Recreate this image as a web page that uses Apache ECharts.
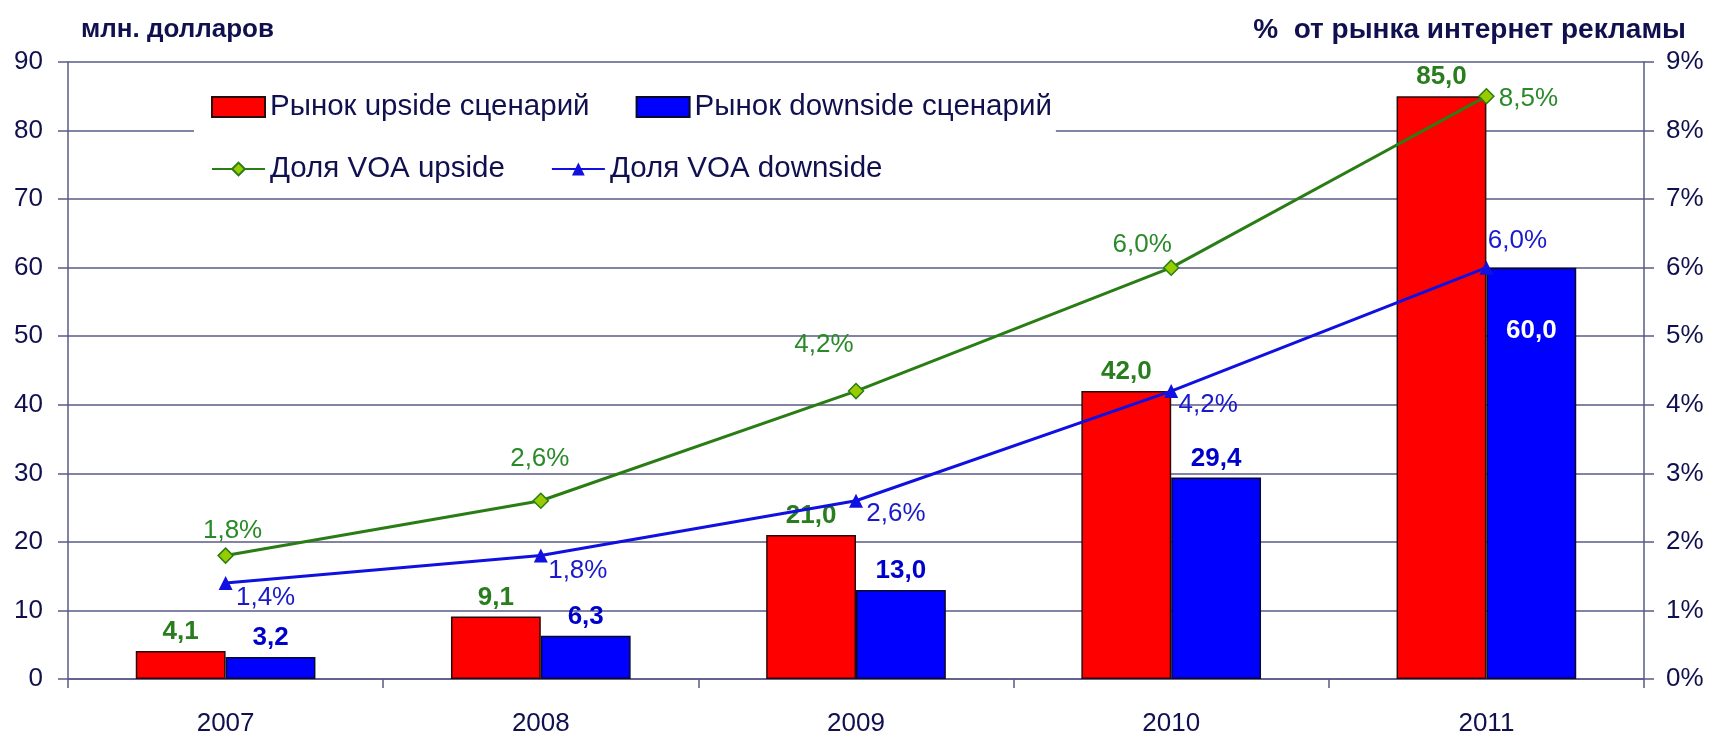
<!DOCTYPE html>
<html>
<head>
<meta charset="utf-8">
<script src="https://cdn.jsdelivr.net/npm/echarts@6/dist/echarts.min.js"></script>
<style>
  html, body { margin: 0; padding: 0; background: #fff; }
  #chart { width: 1721px; height: 737px; }
</style>
</head>
<body>
<div id="chart"></div>
<script>
// данные
var years = ["2007", "2008", "2009", "2010", "2011"];
var marketUp = [4.1, 9.1, 21.0, 42.0, 85.0];
var marketDown = [3.2, 6.3, 13.0, 29.4, 60.0];
var shareUp = [1.8, 2.6, 4.2, 6.0, 8.5];
var shareDown = [1.4, 1.8, 2.6, 4.2, 6.0];

// смещения подписей линий (px)
var shareUpOffsets = [[7, -25], [-1, -42], [-32, -46], [-29, -23], [42, 3]];
var shareDownOffsets = [[40, 15], [37, 15], [40, 13], [37, 14], [31, -27]];

var navy = "#10104f";
var gridColor = "#5a5a86";
var font = "Liberation Sans, Arial, sans-serif";

function comma(v) {
  return v.toFixed(1).replace(".", ",");
}

var legendText = {
  color: navy,
  fontSize: 29.5,
  fontFamily: font,
  rich: {
    a: { width: 312, color: navy, fontSize: 29.5, fontFamily: font }
  }
};

var chart = echarts.init(document.getElementById("chart"));

var option = {
  animation: false,
  textStyle: { fontFamily: font },
  title: [
    {
      text: "млн. долларов",
      left: 76,
      top: 12,
      textStyle: { color: navy, fontSize: 26, fontWeight: "bold", fontFamily: font }
    },
    {
      text: "%  от рынка интернет рекламы",
      right: 30,
      top: 11,
      textStyle: { color: navy, fontSize: 28, fontWeight: "bold", fontFamily: font }
    }
  ],
  legend: [
    {
      data: [
        { name: "Рынок upside сценарий", icon: "rect" },
        { name: "Рынок downside сценарий", icon: "rect" }
      ],
      left: 194,
      top: 80,
      padding: [12, 4, 73, 17],
      backgroundColor: "#fff",
      itemWidth: 53,
      itemHeight: 20,
      itemGap: 46,
      formatter: "{a|{name}}",
      textStyle: legendText
    },
    {
      data: ["Доля VOA upside", "Доля VOA downside"],
      left: 194,
      top: 142,
      padding: [12, 4, 10, 17],
      itemWidth: 53,
      itemHeight: 16,
      itemGap: 46,
      formatter: "{a|{name}}",
      textStyle: legendText
    }
  ],
  grid: {
    left: 68,
    right: 77,
    top: 62,
    bottom: 57,
    containLabel: false
  },
  xAxis: {
    type: "category",
    data: years,
    axisLine: { lineStyle: { color: gridColor, width: 1.5 } },
    axisTick: { show: true, length: 9, lineStyle: { color: gridColor, width: 1.5 } },
    axisLabel: { color: navy, fontSize: 26, margin: 32, fontFamily: font }
  },
  yAxis: [
    {
      type: "value",
      min: 0,
      max: 90,
      interval: 10,
      axisLine: { show: true, lineStyle: { color: gridColor, width: 1.5 } },
      axisTick: { show: true, length: 10, lineStyle: { color: gridColor, width: 1.5 } },
      axisLabel: { color: navy, fontSize: 26, margin: 25, fontFamily: font },
      splitLine: { lineStyle: { color: gridColor, width: 1.5 } }
    },
    {
      type: "value",
      min: 0,
      max: 9,
      interval: 1,
      position: "right",
      axisLine: { show: true, lineStyle: { color: gridColor, width: 1.5 } },
      axisTick: { show: true, length: 10, lineStyle: { color: gridColor, width: 1.5 } },
      axisLabel: { color: navy, fontSize: 26, margin: 22, formatter: "{value}%", fontFamily: font },
      splitLine: { show: false }
    }
  ],
  series: [
    {
      name: "Рынок upside сценарий",
      type: "bar",
      data: marketUp,
      barGap: "0%",
      barCategoryGap: "43%",
      itemStyle: { color: "#ff0000", borderColor: "#2a0a0a", borderWidth: 1.5 },
      label: {
        show: true,
        position: "top",
        distance: 6,
        color: "#2a7d1e",
        fontSize: 26,
        fontWeight: "bold",
        fontFamily: font,
        formatter: function (p) { return comma(p.value); }
      }
    },
    {
      name: "Рынок downside сценарий",
      type: "bar",
      data: marketDown.map(function (v, i) {
        if (i === marketDown.length - 1) {
          return {
            value: v,
            label: { position: "insideTop", distance: 50, color: "#ffffff" }
          };
        }
        return v;
      }),
      itemStyle: { color: "#0000ff", borderColor: "#0a0a2a", borderWidth: 1.5 },
      label: {
        show: true,
        position: "top",
        distance: 6,
        color: "#0000cc",
        fontSize: 26,
        fontWeight: "bold",
        fontFamily: font,
        formatter: function (p) { return comma(p.value); }
      }
    },
    {
      name: "Доля VOA upside",
      type: "line",
      yAxisIndex: 1,
      data: shareUp.map(function (v, i) {
        return { value: v, label: { offset: shareUpOffsets[i] } };
      }),
      symbol: "diamond",
      symbolSize: 15,
      lineStyle: { color: "#2a7d14", width: 3 },
      itemStyle: { color: "#99cc00", borderColor: "#2a7d14", borderWidth: 1.5 },
      label: {
        show: true,
        position: "inside",
        color: "#2a8a2a",
        fontSize: 26,
        fontFamily: font,
        formatter: function (p) { return comma(p.value) + "%"; }
      },
      z: 5
    },
    {
      name: "Доля VOA downside",
      type: "line",
      yAxisIndex: 1,
      data: shareDown.map(function (v, i) {
        return { value: v, label: { offset: shareDownOffsets[i] } };
      }),
      symbol: "triangle",
      symbolSize: 14,
      lineStyle: { color: "#1010e0", width: 3 },
      itemStyle: { color: "#1010e0" },
      label: {
        show: true,
        position: "inside",
        color: "#1a1acc",
        fontSize: 26,
        fontFamily: font,
        formatter: function (p) { return comma(p.value) + "%"; }
      },
      z: 5
    }
  ]
};

chart.setOption(option);
</script>
</body>
</html>
